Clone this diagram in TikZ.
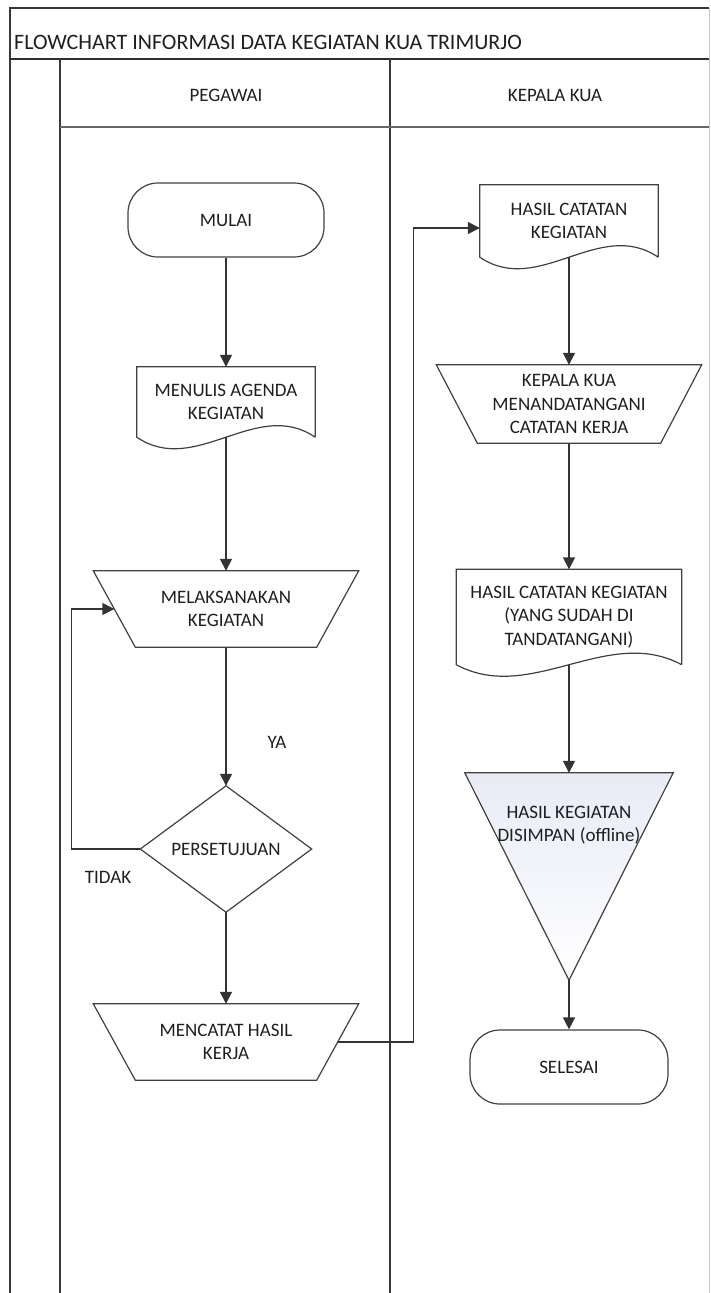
\documentclass[tikz,border=0pt]{standalone}
\usepackage{fontspec}
\setmainfont{Carlito}
\usetikzlibrary{arrows.meta,calc}
\newcommand{\docpath}[1]{\draw[shapeline] (#1.south east) -- (#1.north east) -- (#1.north west) -- (#1.south west) .. controls ($(#1.south west)!0.33!(#1.south east)+(0,40)$) and ($(#1.south west)!0.67!(#1.south east)+(0,-40)$) .. (#1.south east);}
\newcommand{\manop}[2]{\draw[shapeline] (#1.north west) -- (#1.north east) -- ([xshift=-#2]#1.south east) -- ([xshift=#2]#1.south west) -- cycle;}
\begin{document}
\begin{tikzpicture}[x=1pt,y=-1pt,
  frameline/.style={draw=black!78, line width=1.5pt},
  shapeline/.style={draw=black!75, line width=1.2pt},
  arr/.style={draw=black!80, line width=1.4pt, -{Triangle[length=12pt,width=12pt]}},
  txt/.style={font=\fontsize{19}{23.5}\selectfont, text=black!88, align=center, inner sep=0pt},
  lbl/.style={font=\fontsize{19}{23.5}\selectfont, text=black!88, inner sep=0pt},
  term/.style={txt, draw=black!75, line width=1.2pt, rounded corners=30pt, fill=white}
]
\useasboundingbox (0,0) rectangle (711,1293);
% frame and lanes
\draw[draw=black!22, line width=1pt] (709,8) -- (709,1293);
\draw[frameline] (10,1293) -- (10,8) -- (709,8);
\draw[draw=black!82, line width=2.2pt] (10,59) -- (709,59);
\draw[frameline] (60,59) -- (60,1293);
\draw[frameline] (390,59) -- (390,1293);
\draw[draw=black!60, line width=1.5pt] (60,127) -- (709,127);
\node[lbl, anchor=west, font=\fontsize{22}{26}\selectfont] (title) at (14,42) {FLOWCHART INFORMASI DATA KEGIATAN KUA TRIMURJO};
\node[lbl] (lane1) at (226,95) {PEGAWAI};
\node[lbl] (lane2) at (555,95) {KEPALA KUA};
% left lane
\node[term, minimum width=196pt, minimum height=74pt] (mulai) at (226,220) {MULAI};
\node[txt, minimum width=178pt, minimum height=70pt] (menulis) at (226,402) {MENULIS AGENDA\\KEGIATAN};
\docpath{menulis}
\node[txt, minimum width=265pt, minimum height=76pt] (melaks) at (226,609) {MELAKSANAKAN\\KEGIATAN};
\manop{melaks}{42pt}
\node[txt, minimum width=171pt, minimum height=126pt] (setuju) at (226,849) {PERSETUJUAN};
\draw[shapeline] (setuju.north) -- (setuju.east) -- (setuju.south) -- (setuju.west) -- cycle;
\node[txt, minimum width=265pt, minimum height=76pt] (mencatat) at (226,1042) {MENCATAT HASIL\\KERJA};
\manop{mencatat}{42pt}
\node[lbl] (ya) at (277,742) {YA};
\node[lbl] (tidak) at (108,877) {TIDAK};
% right lane
\node[txt, minimum width=178pt, minimum height=72pt] (hasil1) at (569,221) {HASIL CATATAN\\KEGIATAN};
\docpath{hasil1}
\node[txt, minimum width=265pt, minimum height=78pt] (ttd) at (569,404) {KEPALA KUA\\MENANDATANGANI\\CATATAN KERJA};
\manop{ttd}{41pt}
\node[txt, minimum width=225pt, minimum height=95pt] (hasil2) at (569,617) {HASIL CATATAN KEGIATAN\\(YANG SUDAH DI\\TANDATANGANI)};
\docpath{hasil2}
\node[minimum width=208pt, minimum height=207pt, inner sep=0pt] (simpan) at (569,876.5) {};
\draw[shapeline, top color={rgb,255:red,232;green,235;blue,246}, bottom color=white] (simpan.north west) -- (simpan.north east) -- (simpan.south) -- cycle;
\node[txt] (simpantxt) at (569,825) {HASIL KEGIATAN\\DISIMPAN (offline)};
\node[term, minimum width=198pt, minimum height=74pt] (selesai) at (569,1067) {SELESAI};
% connectors
\draw[arr] (mulai.south) -- (menulis.north);
\draw[arr] (menulis.south) -- (melaks.north);
\draw[arr] (melaks.south) -- (setuju.north);
\draw[arr] (setuju.south) -- (mencatat.north);
\draw[arr] (setuju.west) -- ++(-69,0) |- ([xshift=21pt]melaks.west);
\draw[arr] ([xshift=-21pt]mencatat.east) -- ++(76,0) |- ([yshift=-7pt]hasil1.west);
\draw[arr] (hasil1.south) -- (ttd.north);
\draw[arr] (ttd.south) -- (hasil2.north);
\draw[arr] (hasil2.south) -- (simpan.north);
\draw[arr] (simpan.south) -- (selesai.north);
\end{tikzpicture}
\end{document}
